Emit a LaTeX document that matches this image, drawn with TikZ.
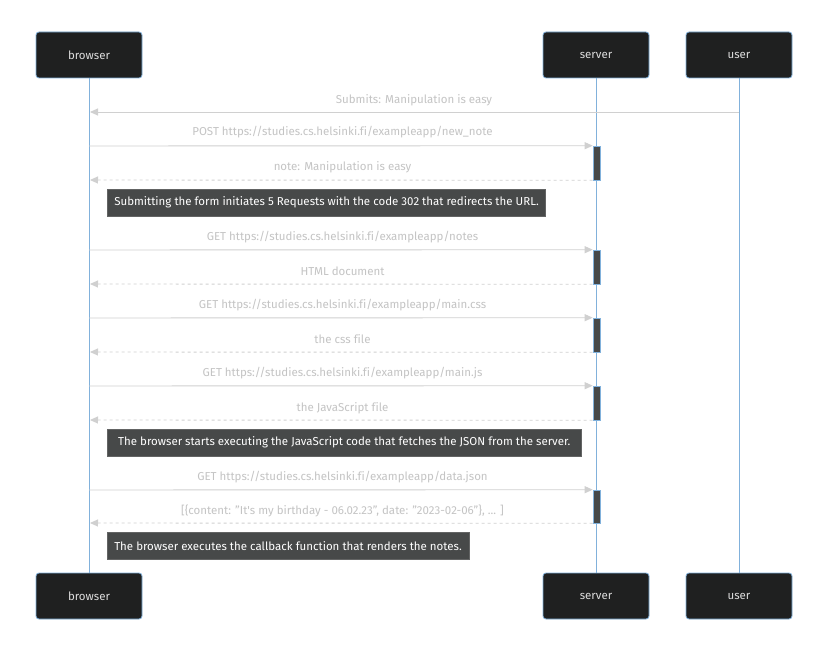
\documentclass[tikz,border=0pt]{standalone}
\usepackage{fontspec}
\setmainfont[Ligatures=CommonOff]{Fira Sans}
\usetikzlibrary{arrows.meta}
\definecolor{actfill}{HTML}{1F2020}
\definecolor{life}{HTML}{81B1DB}
\definecolor{msgline}{HTML}{D0D0D0}
\definecolor{msgtext}{HTML}{C4C4C4}
\definecolor{notefill}{HTML}{474949}
\definecolor{actortext}{HTML}{DDDDDD}
\newcommand\msgfont{\fontsize{11.5}{13}\selectfont}
\tikzset{
  actor/.style={draw=life, fill=actfill, rounded corners=3pt, minimum width=106pt,
    minimum height=46pt, text=actortext, font=\msgfont, line width=0.8pt},
  lifeline/.style={draw=life, line width=1pt},
  actbox/.style={draw=life, fill=notefill, minimum width=7pt, inner sep=0pt, line width=0.6pt},
  msg/.style={draw=msgline, line width=0.9pt, -{Triangle[length=8pt,width=7pt]}},
  reply/.style={msg, dash pattern=on 3pt off 3pt},
  msglabel/.style={text=msgtext, font=\msgfont, inner sep=0pt},
  note/.style={draw=notefill!85!white, fill=notefill, text=white, anchor=west,
    minimum height=27pt, inner xsep=7pt, font=\msgfont, line width=0.6pt}
}
\begin{document}
\begin{tikzpicture}[x=1pt,y=-1pt]
\useasboundingbox (0,0) rectangle (828,652);
\fill[white] (0,0) rectangle (828,652);

% actors, top and bottom
\node[actor] (browser) at (89,55) {browser};
\node[actor] (server) at (596,55) {server};
\node[actor] (user) at (739,55) {user};
\node[actor] (browserB) at (89,596) {browser};
\node[actor] (serverB) at (596,596) {server};
\node[actor] (userB) at (739,596) {user};

% lifelines
\draw[lifeline] (browser.south) -- (browserB.north);
\draw[lifeline] (server.south) -- (serverB.north);
\draw[lifeline] (user.south) -- (userB.north);

% activation bars on the server
\node[actbox, minimum height=34pt] (a1) at (596.5,163) {};
\node[actbox, minimum height=34pt] (a2) at (596.5,267) {};
\node[actbox, minimum height=34pt] (a3) at (596.5,335) {};
\node[actbox, minimum height=34pt] (a4) at (596.5,403) {};
\node[actbox, minimum height=33pt] (a5) at (596.5,506.5) {};

% message end points on the lifelines
\coordinate (u1) at (739,112);  \coordinate (b1) at (90,112);
\coordinate (b2) at (89,146);   \coordinate (s2) at (a1.north west);
\coordinate (s3) at (a1.south west); \coordinate (b3) at (90,180);
\coordinate (b4) at (89,250);   \coordinate (s4) at (a2.north west);
\coordinate (s5) at (a2.south west); \coordinate (b5) at (90,284);
\coordinate (b6) at (89,318);   \coordinate (s6) at (a3.north west);
\coordinate (s7) at (a3.south west); \coordinate (b7) at (90,352);
\coordinate (b8) at (89,386);   \coordinate (s8) at (a4.north west);
\coordinate (s9) at (a4.south west); \coordinate (b9) at (90,420);
\coordinate (b10) at (89,490);  \coordinate (s10) at (a5.north west);
\coordinate (s11) at (a5.south west); \coordinate (b11) at (90,523);

% messages
\draw[msg] (u1) -- (b1);
\node[msglabel] (m1) at (414,100) {Submits: Manipulation is easy};
\draw[msg] (b2) -- (s2);
\node[msglabel] (m2) at (342.5,132) {POST https://studies.cs.helsinki.fi/exampleapp/new\_note};
\draw[reply] (s3) -- (b3);
\node[msglabel] (m3) at (342.5,167) {note: Manipulation is easy};
\node[note, minimum width=438pt] (n1) at (107,202.5) {Submitting the form initiates 5 Requests with the code 302 that redirects the URL.};

\draw[msg] (b4) -- (s4);
\node[msglabel] (m4) at (342.5,237) {GET https://studies.cs.helsinki.fi/exampleapp/notes};
\draw[reply] (s5) -- (b5);
\node[msglabel] (m5) at (342.5,271) {HTML document};
\draw[msg] (b6) -- (s6);
\node[msglabel] (m6) at (342.5,305) {GET https://studies.cs.helsinki.fi/exampleapp/main.css};
\draw[reply] (s7) -- (b7);
\node[msglabel] (m7) at (342.5,339) {the css file};
\draw[msg] (b8) -- (s8);
\node[msglabel] (m8) at (342.5,373) {GET https://studies.cs.helsinki.fi/exampleapp/main.js};
\draw[reply] (s9) -- (b9);
\node[msglabel] (m9) at (342.5,408) {the JavaScript file};
\node[note, minimum width=474pt] (n2) at (107,442.5) {The browser starts executing the JavaScript code that fetches the JSON from the server.};

\draw[msg] (b10) -- (s10);
\node[msglabel] (m10) at (342.5,477) {GET https://studies.cs.helsinki.fi/exampleapp/data.json};
\draw[reply] (s11) -- (b11);
\node[msglabel] (m11) at (342.5,511) {[\{content: "It\textquotesingle s my birthday - 06.02.23", date: "2023-02-06"\}, ... ]};
\node[note] (n3) at (107,546) {The browser executes the callback function that renders the notes.};
\end{tikzpicture}
\end{document}
